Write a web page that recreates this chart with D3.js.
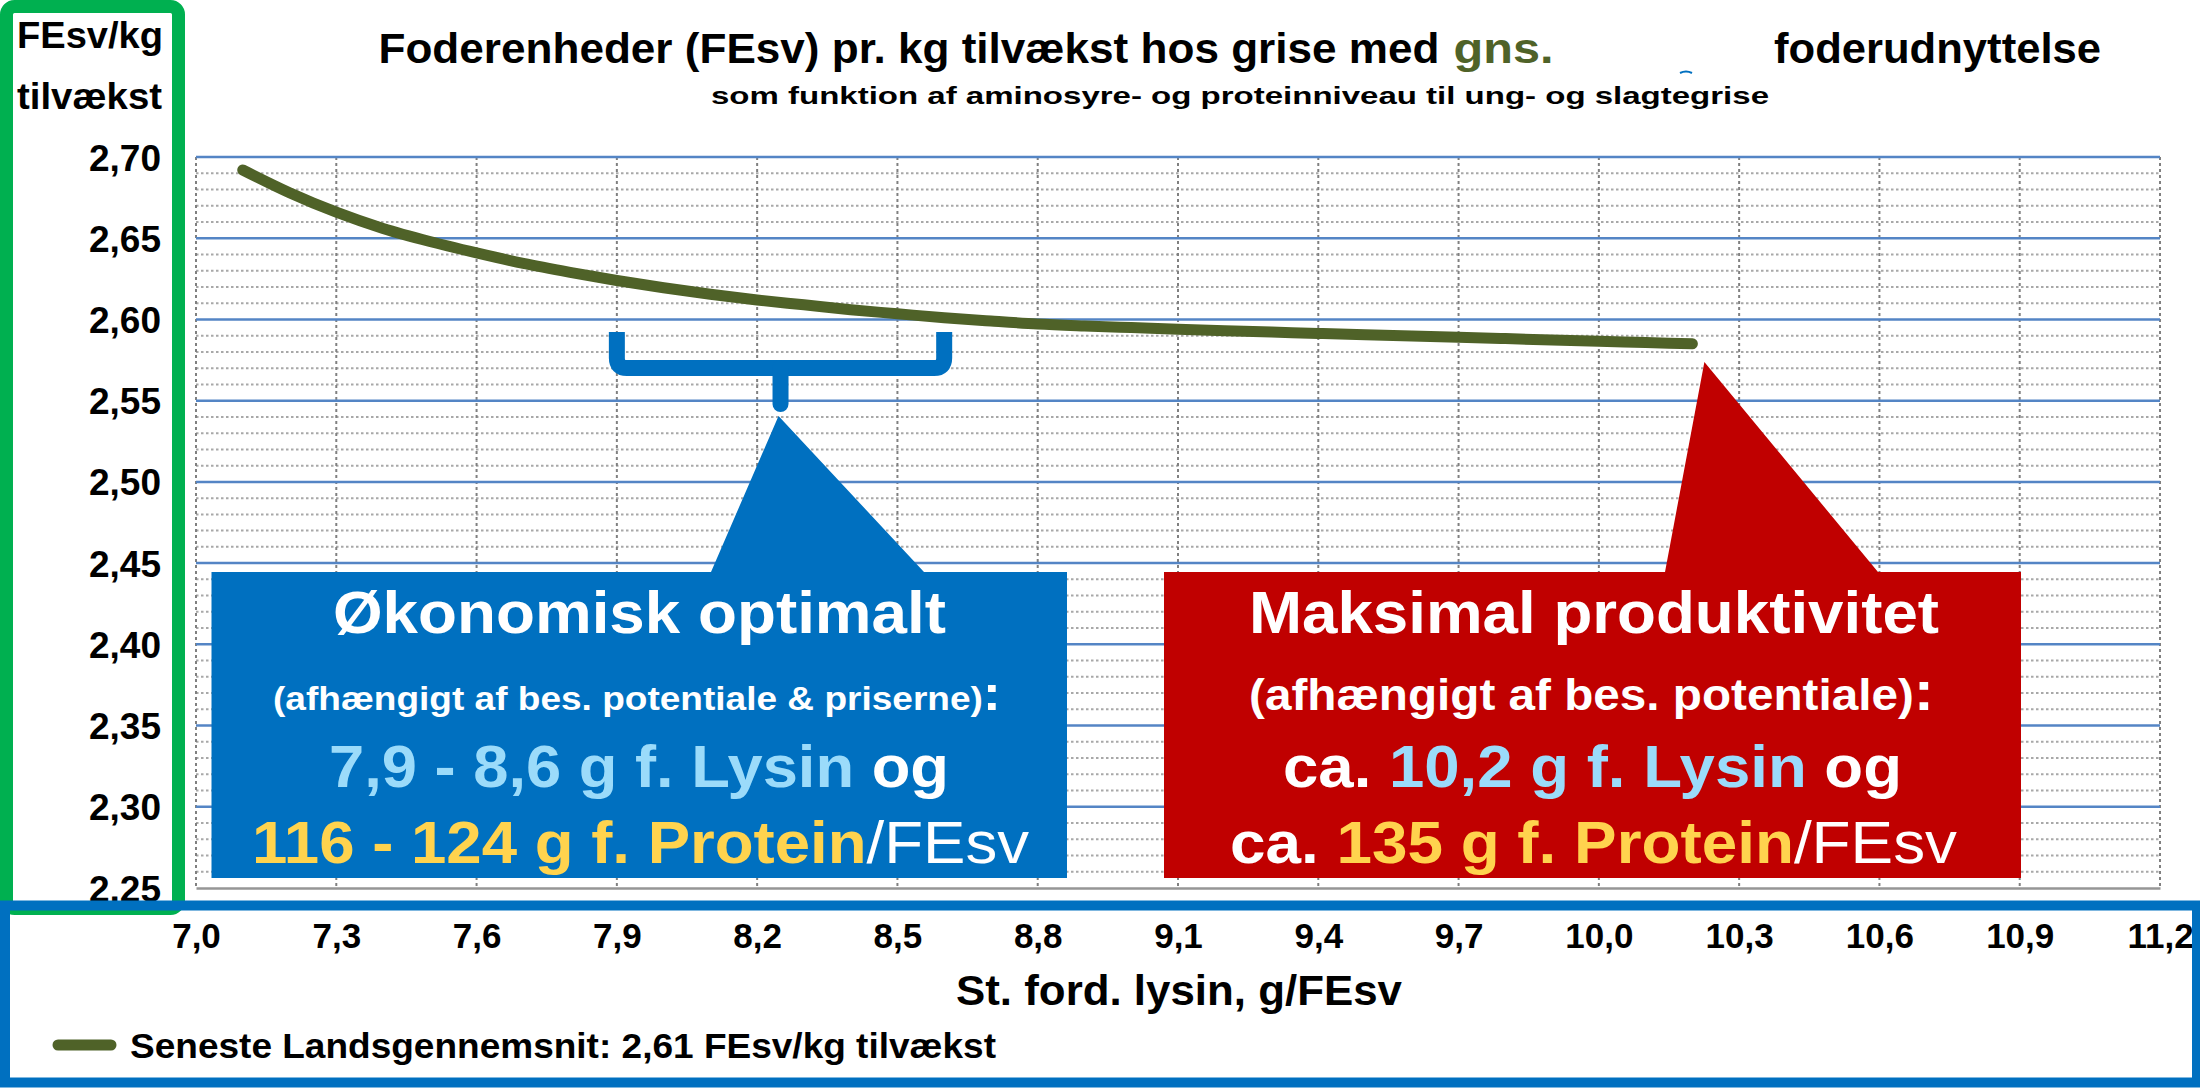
<!DOCTYPE html>
<html><head><meta charset="utf-8">
<script src="https://cdn.jsdelivr.net/npm/d3@7"></script>
<style>
html,body{margin:0;padding:0;background:#fff;}
svg{display:block;}
text{font-family:"Liberation Sans Narrow","Arial Narrow","Liberation Sans",Arial,sans-serif;font-weight:bold;}
</style></head>
<body>
<svg id="chart" width="2200" height="1088"></svg>
<script>
// ---- data ----
const lysin = [7.1,7.2,7.3,7.4,7.5,7.6,7.7,7.8,7.9,8.0,8.1,8.2,8.3,8.4,8.5,8.6,8.7,8.8,8.9,9.0,9.1,9.2,9.3,9.4,9.5,9.6,9.7,9.8,9.9,10.0,10.1,10.2];
const feSv  = [2.692,2.678,2.666,2.656,2.648,2.641,2.6345,2.629,2.624,2.6195,2.6155,2.612,2.609,2.606,2.6035,2.601,2.599,2.5972,2.596,2.595,2.594,2.5931,2.5922,2.5914,2.5906,2.5898,2.589,2.5882,2.5874,2.5866,2.5858,2.585];
const xTickValues = [7.0,7.3,7.6,7.9,8.2,8.5,8.8,9.1,9.4,9.7,10.0,10.3,10.6,10.9,11.2];
const xTickLabels = ["7,0","7,3","7,6","7,9","8,2","8,5","8,8","9,1","9,4","9,7","10,0","10,3","10,6","10,9","11,2"];
const yTickValues = [2.25,2.30,2.35,2.40,2.45,2.50,2.55,2.60,2.65,2.70];
const yTickLabels = ["2,25","2,30","2,35","2,40","2,45","2,50","2,55","2,60","2,65","2,70"];
const optimalRange = [7.9, 8.6];
const maxLysin = 10.2;
const seriesName = "Seneste Landsgennemsnit: 2,61 FEsv/kg tilvækst";

const svg = d3.select("#chart");
const x = d3.scaleLinear().domain([7.0, 11.2]).range([196, 2160]);
const y = d3.scaleLinear().domain([2.25, 2.70]).range([888, 157]);

const OLIVE = "#4F6228", BLUE = "#0070C0", RED = "#C00000", LBLUE = "#9BDBFA", YEL = "#FFD34E";

// ---- green y-axis frame ----
svg.append("rect").attr("x",6.5).attr("y",6.5).attr("width",172).attr("height",902)
  .attr("rx",8).attr("fill","none").attr("stroke","#00B050").attr("stroke-width",13);

// ---- grid ----
const g = svg.append("g");
const minor = d3.range(2.25, 2.7001, 0.01).filter(v => Math.abs(Math.round(v*100)%5) !== 0);
g.selectAll(".minor").data(minor).join("line")
  .attr("x1", x(7.0)).attr("x2", x(11.2)).attr("y1", d=>y(d)).attr("y2", d=>y(d))
  .attr("stroke","#A8A8A8").attr("stroke-width",2).attr("stroke-dasharray","2.5,2.5");
g.selectAll(".vgrid").data(xTickValues).join("line")
  .attr("x1", d=>x(d)).attr("x2", d=>x(d)).attr("y1", y(2.70)).attr("y2", y(2.25))
  .attr("stroke","#808080").attr("stroke-width",2).attr("stroke-dasharray","3,3");
g.selectAll(".major").data(yTickValues.filter(v=>v>2.26)).join("line")
  .attr("x1", x(7.0)).attr("x2", x(11.2)).attr("y1", d=>y(d)).attr("y2", d=>y(d))
  .attr("stroke","#5485C5").attr("stroke-width",2.5);
// bottom axis
const xAxis = d3.axisBottom(x).tickValues(xTickValues).tickSize(0).tickFormat((d,i)=>xTickLabels[i]);
const xa = svg.append("g").attr("transform",`translate(0,${y(2.25)})`).call(xAxis);
xa.select(".domain").attr("stroke","#969696").attr("stroke-width",2.5);
xa.selectAll("text").attr("y",60).attr("dy",0).attr("fill","#000")
  .style("font-family","'Liberation Sans',Arial,sans-serif").style("font-size","35px").style("font-weight","bold");

// y labels
const yAxis = d3.axisLeft(y).tickValues(yTickValues).tickSize(0).tickFormat((d,i)=>yTickLabels[i]);
const ya = svg.append("g").attr("transform","translate(161,0)").call(yAxis);
ya.select(".domain").remove();
ya.selectAll("text").attr("x",0).attr("dy",13).attr("fill","#000")
  .style("font-family","'Liberation Sans',Arial,sans-serif").style("font-size","37px").style("font-weight","bold");

// y title
svg.append("text").attr("x",17).attr("y",48).attr("font-size",36).attr("textLength",146)
  .attr("lengthAdjust","spacingAndGlyphs").text("FEsv/kg");
svg.append("text").attr("x",17).attr("y",109).attr("font-size",36).attr("textLength",145)
  .attr("lengthAdjust","spacingAndGlyphs").text("tilvækst");

// ---- curve ----
const line = d3.line().x((d,i)=>x(lysin[i])).y(d=>y(d)).curve(d3.curveMonotoneX);
svg.append("path").datum(feSv).attr("d",line).attr("fill","none").attr("stroke",OLIVE)
  .attr("stroke-width",11).attr("stroke-linecap","round").attr("stroke-linejoin","round");

// ---- brace ----
const bl = x(optimalRange[0]), br = x(optimalRange[1]), bm = (bl+br)/2;
svg.append("path")
  .attr("d",`M${bl},332 V358 Q${bl},368 ${bl+10},368 H${br-10} Q${br},368 ${br},358 V332`)
  .attr("fill","none").attr("stroke",BLUE).attr("stroke-width",16).attr("stroke-linejoin","round");
svg.append("path").attr("d",`M${bm},368 V404`).attr("stroke",BLUE).attr("stroke-width",16).attr("stroke-linecap","round");

// ---- callouts ----
function callout(x0,x1,y0,y1,tb0,tb1,ax,ay,col){
  svg.append("path").attr("d",
    `M${x0},${y0} H${tb0} L${ax},${ay} L${tb1},${y0} H${x1} V${y1} H${x0} Z`).attr("fill",col);
}
callout(211.5,1067,572,878,711,924,bm-2,416,BLUE);
callout(1164,2021,572,878,1665,1878,x(maxLysin)+12,362,RED);

function rich(xp, yp, len, parts){
  const t = svg.append("text").attr("x",xp).attr("y",yp).attr("textLength",len).attr("lengthAdjust","spacingAndGlyphs");
  parts.forEach(p=>{
    t.append("tspan").attr("fill",p.c).attr("font-size",p.s).attr("font-weight",p.w||"bold").text(p.t);
  });
}
// blue box text
rich(333,633,613,[{t:"Økonomisk optimalt",c:"#fff",s:60}]);
rich(273,710,728,[{t:"(afhængigt af bes. potentiale & priserne)",c:"#fff",s:34},{t:":",c:"#fff",s:50}]);
rich(329,787,620,[{t:"7,9 - 8,6 g f. Lysin",c:LBLUE,s:60},{t:" og",c:"#fff",s:60}]);
rich(252,863,777,[{t:"116 - 124 g f. Protein",c:YEL,s:60},{t:"/FEsv",c:"#fff",s:60,w:"normal"}]);
// red box text
rich(1249,633,690,[{t:"Maksimal produktivitet",c:"#fff",s:60}]);
rich(1249,710,685,[{t:"(afhængigt af bes. potentiale)",c:"#fff",s:44},{t:":",c:"#fff",s:56}]);
rich(1283,787,619,[{t:"ca. ",c:"#fff",s:60},{t:"10,2 g f. Lysin",c:LBLUE,s:60},{t:" og",c:"#fff",s:60}]);
rich(1230,863,727,[{t:"ca. ",c:"#fff",s:60},{t:"135 g f. Protein",c:YEL,s:60},{t:"/FEsv",c:"#fff",s:60,w:"normal"}]);

// ---- titles ----
rich(378.5,63,1061,[{t:"Foderenheder (FEsv) pr. kg tilvækst hos grise med",c:"#000",s:43}]);
rich(1453.6,63,100,[{t:"gns.",c:OLIVE,s:43}]);
rich(1774,63,327,[{t:"foderudnyttelse",c:"#000",s:43}]);
svg.append("path").attr("d","M1680,73 Q1686,70 1692,73").attr("stroke",BLUE).attr("stroke-width",2).attr("fill","none");
rich(711,104,1058,[{t:"som funktion af aminosyre- og proteinniveau til ung- og slagtegrise",c:"#000",s:24}]);

// ---- bottom blue frame ----
svg.append("rect").attr("x",5).attr("y",905.5).attr("width",2192).attr("height",177)
  .attr("fill","none").attr("stroke",BLUE).attr("stroke-width",10);

// x title
rich(956,1005,446,[{t:"St. ford. lysin, g/FEsv",c:"#000",s:43}]);
// legend
svg.append("line").attr("x1",58).attr("x2",111).attr("y1",1045).attr("y2",1045)
  .attr("stroke",OLIVE).attr("stroke-width",11).attr("stroke-linecap","round");
rich(130,1058,866,[{t:seriesName,c:"#000",s:35}]);
</script>
</body></html>
